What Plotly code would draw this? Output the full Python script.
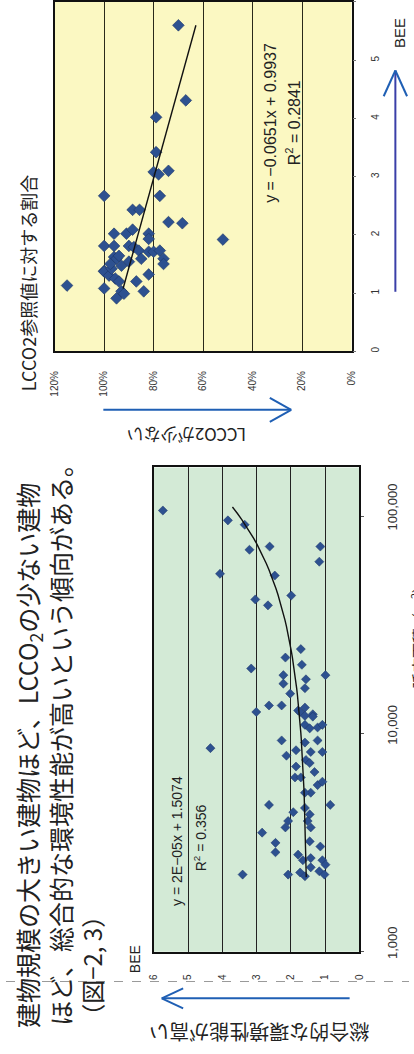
import numpy as np
import plotly.graph_objects as go

W, H = 414, 1054

# ---------------- data: chart 2 (BEE vs LCCO2 ratio) ----------------
bee2 = [5.60, 4.31, 4.02, 3.42, 3.08, 3.04, 3.10, 2.67, 2.67, 2.43, 2.43, 2.22, 2.20, 1.92,
        1.13, 1.81, 2.02, 1.81, 2.02, 2.09, 1.81, 1.79, 2.02, 1.93, 1.73, 1.59, 1.71, 1.71,
        1.73, 1.59, 1.50, 1.32, 1.03, 1.20, 1.08, 1.38, 1.37, 1.30, 1.62, 1.59, 1.64, 1.47,
        1.25, 1.20, 0.91, 1.03, 0.99, 1.54, 1.42, 1.50]
lcco2_ratio = [0.70, 0.67, 0.79, 0.79, 0.80, 0.78, 0.74, 0.775, 1.00, 0.885, 0.857, 0.74, 0.684, 0.52,
               1.15, 1.00, 0.96, 0.96, 0.91, 0.885, 0.90, 0.88, 0.82, 0.82, 0.86, 0.85, 0.82, 0.80,
               0.775, 0.76, 0.76, 0.82, 0.84, 0.87, 1.00, 1.00, 1.00, 0.98, 0.96, 0.95, 0.94, 0.93,
               0.955, 0.94, 0.95, 0.93, 0.92, 0.90, 0.97, 0.975]
trend2_coef = [-0.0651, 0.9937]
trend2_range = [1.08, 5.6]

# ---------------- data: chart 1 (floor area vs BEE) ----------------
area1 = [106000, 95500, 91200, 70000, 72400, 72400, 61700, 54300, 53300, 41400, 38900, 43150,
         24500, 22400, 20750, 19950, 18600, 17000, 15300, 18600, 17800, 16200,
         12600, 13500, 13500, 12800, 13200, 12300, 12600, 12100, 12000, 11000, 10700, 11000, 10600,
         8600, 9330, 7940, 8410, 9120, 9330, 8260, 8260, 7590, 7350, 7080, 6310, 6310, 6680,
         5820, 6030, 5370, 5370, 4720, 4720, 4370, 4570, 4270, 3980, 3980, 3720, 3520, 3160,
         2860, 3210, 3040, 3720, 2790, 2630, 2690, 2630, 2260, 2260, 2310, 2220, 2440, 2340,
         2510, 2260]
bee1 = [5.74, 3.84, 3.35, 3.21, 2.62, 1.14, 1.17, 4.07, 2.47, 3.04, 2.67, 1.99,
        1.71, 2.16, 1.68, 3.16, 2.22, 2.22, 2.02, 0.99, 1.56, 1.59,
        3.01, 2.64, 2.27, 1.79, 1.59, 1.36, 1.73, 1.59, 1.36, 1.59, 1.22, 1.08, 1.45,
        4.35, 2.27, 2.13, 1.85, 1.59, 1.22, 1.08, 1.42, 1.56, 1.45, 1.85, 1.88, 1.71, 1.31,
        1.22, 1.08, 1.42, 1.59, 0.85, 2.64, 1.93, 1.59, 1.45, 1.51, 2.08, 2.16, 2.84, 2.45,
        2.45, 1.45, 1.14, 1.42, 1.79, 1.65, 1.42, 1.08, 3.41, 2.08, 1.73, 1.59, 1.42, 1.17,
        0.99, 1.02]
trend1_coef = [2e-05, 1.5074]
trend1_range = [2200, 110000]

bee_ticks = [0, 1, 2, 3, 4, 5, 6]
ratio_ticks = [0, 0.2, 0.4, 0.6, 0.8, 1.0, 1.2]
area_ticks = [1000, 10000, 100000]
area_ticktext = ["1,000", "10,000", "100,000"]

# ---------------- helpers ----------------
def px(x):
    return x / W

def py(y):
    return 1 - y / H

JP = "Noto Sans CJK JP"
LAT = "Liberation Sans, Arial, sans-serif"
MARK = "#2d5190"
BLUE = "#1f5fb4"

fig = go.Figure()

# chart 2 scatter (top)
fig.add_trace(go.Scatter(x=lcco2_ratio, y=bee2, mode="markers", xaxis="x2", yaxis="y2",
                         marker=dict(symbol="diamond", size=9, color=MARK,
                                     line=dict(color="#1c3566", width=0.6)),
                         showlegend=False))
t2x = np.linspace(trend2_range[0], trend2_range[1], 20)
t2y = trend2_coef[0] * t2x + trend2_coef[1]
fig.add_trace(go.Scatter(x=t2y, y=t2x, mode="lines", xaxis="x2", yaxis="y2",
                         line=dict(color="#111", width=1.4), showlegend=False))

# chart 1 scatter (bottom)
fig.add_trace(go.Scatter(x=bee1, y=area1, mode="markers", xaxis="x", yaxis="y",
                         marker=dict(symbol="diamond", size=7, color=MARK,
                                     line=dict(color="#1c3566", width=0.5)),
                         showlegend=False))
t1a = np.logspace(np.log10(trend1_range[0]), np.log10(trend1_range[1]), 60)
t1b = trend1_coef[0] * t1a + trend1_coef[1]
fig.add_trace(go.Scatter(x=t1b, y=t1a, mode="lines", xaxis="x", yaxis="y",
                         line=dict(color="#111", width=1.4), showlegend=False))

tickfont = dict(family=LAT, size=10, color="#333")

fig.update_layout(
    width=W, height=H, margin=dict(l=0, r=0, t=0, b=0),
    paper_bgcolor="white", plot_bgcolor="white",
    xaxis=dict(domain=[px(152), px(363)], range=[6, 0], tickvals=bee_ticks,
               tickangle=-90, tickfont=tickfont, showgrid=True, gridcolor="#222", gridwidth=1,
               showline=True, linecolor="#111", linewidth=1.5, mirror=True, zeroline=False,
               ticks="", anchor="y", ticklabelstandoff=17),
    yaxis=dict(domain=[py(958), py(470)], type="log", range=[3, 5.223], tickvals=area_ticks,
               ticktext=area_ticktext, side="right", tickangle=-90,
               tickfont=dict(family=LAT, size=13, color="#333"), showgrid=False,
               showline=True, linecolor="#111", linewidth=1.5, mirror=True, zeroline=False,
               ticks="outside", ticklen=3, tickcolor="#555", anchor="x", ticklabelstandoff=17,
               ticklabelshift=-7),
    xaxis2=dict(domain=[px(50), px(355)], range=[1.2, 0], tickvals=ratio_ticks,
                tickformat=".0%", tickangle=-90, tickfont=tickfont, showgrid=True,
                gridcolor="#2a2a1a", gridwidth=1, showline=True, linecolor="#111", linewidth=1.5,
                mirror=True, zeroline=False, ticks="", anchor="y2", ticklabelstandoff=14),
    yaxis2=dict(domain=[py(353), py(1)], range=[0, 6], tickvals=bee_ticks, side="right",
                tickangle=-90, tickfont=tickfont, showgrid=False, showline=True,
                linecolor="#111", linewidth=1.5, mirror=True, zeroline=False,
                ticks="outside", ticklen=3, tickcolor="#777", anchor="x2", ticklabelstandoff=11),
)

shapes = []
# plot backgrounds
shapes.append(dict(type="rect", xref="paper", yref="paper", x0=px(152), x1=px(363),
                   y0=py(958), y1=py(470), fillcolor="#d3ead6", line=dict(width=0), layer="below"))
shapes.append(dict(type="rect", xref="paper", yref="paper", x0=px(50), x1=px(355),
                   y0=py(353), y1=py(1), fillcolor="#fbf8c2", line=dict(width=0), layer="below"))

def seg(x0, y0, x1, y1, color, width, dash="solid"):
    shapes.append(dict(type="line", xref="paper", yref="paper", x0=px(x0), y0=py(y0),
                       x1=px(x1), y1=py(y1), line=dict(color=color, width=width, dash=dash)))

# arrow: LCCO2 decreasing (horizontal, pointing right)
seg(100, 412, 293, 412, BLUE, 2)
seg(271, 400, 293, 412, BLUE, 2)
seg(271, 424, 293, 412, BLUE, 2)
# arrow: BEE increasing (vertical, pointing up) chart 2
seg(400, 293, 400, 70, "#3a3fa8", 2)
seg(388, 96, 400, 70, BLUE, 2)
seg(412, 96, 400, 70, BLUE, 2)
# arrow: environmental performance (horizontal, pointing left) chart 1
seg(353, 1005, 160, 1005, BLUE, 2)
seg(182, 995, 160, 1005, BLUE, 2)
seg(182, 1015, 160, 1005, BLUE, 2)
# page fold dashed line
seg(0, 988, 414, 988, "#9a9a9a", 1, "dash")
fig.update_layout(shapes=shapes)

ann = []

def text(x, y, s, size, angle=-90, font=JP, color="#222", xanchor="center", yanchor="middle"):
    ann.append(dict(x=px(x), y=py(y), xref="paper", yref="paper", text=s, showarrow=False,
                    textangle=angle, font=dict(family=font, size=size, color=color),
                    xanchor=xanchor, yanchor=yanchor))

# title lines
text(23, 1037, "建物規模の大きい建物ほど、LCCO<sub>2</sub>の少ない建物", 25, yanchor="bottom")
text(56, 1035, "ほど、総合的な環境性能が高いという傾向がある。", 25, yanchor="bottom")
text(87, 1037, "（図−2, 3）", 24, yanchor="bottom")
# axis labels
text(22, 284, "LCCO2参照値に対する割合", 18)
text(405, 32, "BEE", 15, font=LAT)
text(132, 965, "BEE", 14, font=LAT)
text(186, 438, "LCCO2が少ない", 17, angle=180)
text(260, 1040, "総合的な環境性能が高い", 20, angle=180)
text(423, 637, "延床面積（m<sup>2</sup>）", 15)
# equations
text(175, 846, "y = 2E−05x + 1.5074", 14, font=LAT)
text(199, 843, "R<sup>2</sup> = 0.356", 14, font=LAT)
text(271, 123, "y = −0.0651x + 0.9937", 16, font=LAT)
text(295, 123, "R<sup>2</sup> = 0.2841", 16, font=LAT)
fig.update_layout(annotations=ann)

fig.write_html("out.html", config={"displayModeBar": False},
               post_script="document.body.style.margin='0';document.body.style.overflow='hidden';")
